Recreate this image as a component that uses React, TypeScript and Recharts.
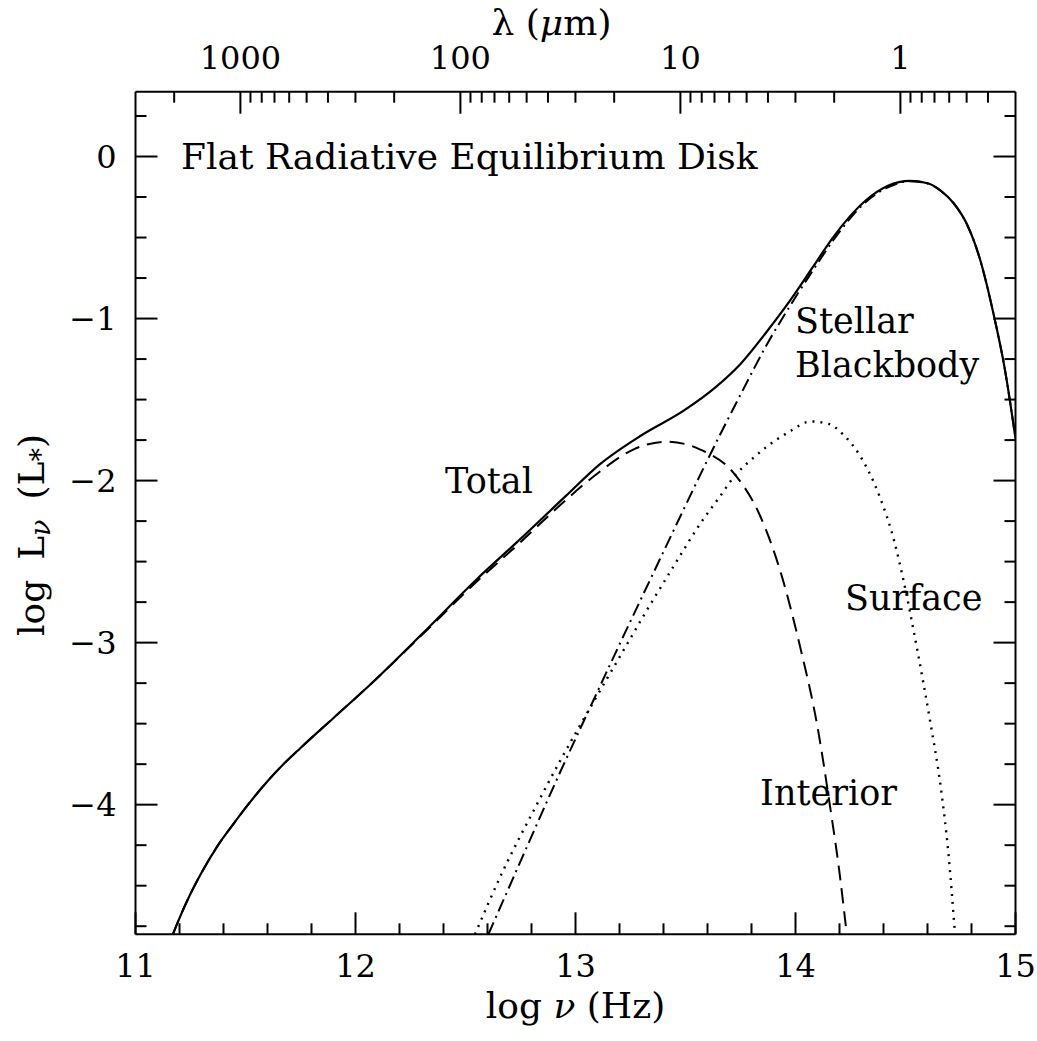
import React from 'react';
import { LineChart, Line, XAxis, YAxis, ReferenceDot } from 'recharts';

const FONT = '"DejaVu Serif", "Liberation Serif", serif';
const FS_TICK = 32;
const FS_TEXT = 35;
const FS_TITLE = 36;

// ---- data (log nu [Hz], log L_nu [L*]) ----
const totalLogNu = [11.17, 11.2, 11.25, 11.3, 11.38, 11.45, 11.5, 11.6, 11.68, 11.75, 11.9, 12.07, 12.3, 12.55, 12.75, 12.96, 13.11, 13.3, 13.49, 13.64, 13.75, 13.87, 13.975, 14.08, 14.17, 14.32, 14.42, 14.52, 14.6, 14.66, 14.72, 14.78, 14.84, 14.9, 14.95, 15.0];
const totalLogL = [-4.8, -4.7, -4.55, -4.42, -4.24, -4.11, -4.02, -3.855, -3.74, -3.65, -3.465, -3.255, -2.95, -2.61, -2.36, -2.09, -1.9, -1.72, -1.57, -1.42, -1.28, -1.08, -0.89, -0.68, -0.5, -0.27, -0.18, -0.15, -0.165, -0.21, -0.29, -0.42, -0.64, -0.97, -1.3, -1.74];

const interiorLogNu = [11.17, 11.2, 11.25, 11.3, 11.38, 11.45, 11.5, 11.6, 11.68, 11.75, 11.9, 12.07, 12.3, 12.55, 12.75, 12.96, 13.11, 13.26, 13.415, 13.57, 13.72, 13.84, 13.94, 14.02, 14.1, 14.157, 14.2, 14.233];
const interiorLogL = [-4.8, -4.7, -4.55, -4.42, -4.24, -4.11, -4.02, -3.855, -3.74, -3.65, -3.465, -3.255, -2.955, -2.625, -2.38, -2.115, -1.945, -1.81, -1.76, -1.81, -1.955, -2.22, -2.6, -3.02, -3.52, -4.01, -4.42, -4.8];

const surfaceLogNu = [12.543, 12.67, 12.82, 12.93, 13.08, 13.2, 13.32, 13.45, 13.57, 13.65, 13.73, 13.8, 13.87, 13.97, 14.07, 14.15, 14.22, 14.29, 14.38, 14.45, 14.49, 14.55, 14.61, 14.66, 14.695, 14.725];
const surfaceLogL = [-4.8, -4.41, -4.01, -3.73, -3.37, -3.09, -2.81, -2.52, -2.26, -2.11, -1.96, -1.87, -1.79, -1.7, -1.635, -1.65, -1.72, -1.84, -2.09, -2.38, -2.61, -3.02, -3.47, -3.89, -4.3, -4.8];

const stellarLogNu = [12.604, 12.75, 12.93, 13.08, 13.19, 13.34, 13.475, 13.61, 13.75, 13.87, 13.99, 14.1, 14.17, 14.32, 14.42, 14.52, 14.6, 14.66, 14.72, 14.78, 14.84, 14.9, 14.95, 15.0];
const stellarLogL = [-4.8, -4.35, -3.8, -3.36, -3.04, -2.61, -2.225, -1.845, -1.47, -1.16, -0.89, -0.66, -0.52, -0.28, -0.19, -0.152, -0.166, -0.211, -0.291, -0.421, -0.641, -0.971, -1.301, -1.741];

// ---- axes ----
const nuTicks = [11, 11.2, 11.4, 11.6, 11.8, 12, 12.2, 12.4, 12.6, 12.8, 13, 13.2, 13.4, 13.6, 13.8, 14, 14.2, 14.4, 14.6, 14.8, 15];
const logLTicks = [0.25, 0, -0.25, -0.5, -0.75, -1, -1.25, -1.5, -1.75, -2, -2.25, -2.5, -2.75, -3, -3.25, -3.5, -3.75, -4, -4.25, -4.5, -4.75];
const lambdaTicks = [2000, 1000, 900, 800, 700, 600, 500, 400, 300, 200, 100, 90, 80, 70, 60, 50, 40, 30, 20, 10, 9, 8, 7, 6, 5, 4, 3, 2, 1, 0.9, 0.8, 0.7, 0.6, 0.5, 0.4];
const LOG_C_UM = Math.log10(2.998e14); // c in micron/s
const lambdaTickNu = lambdaTicks.map((l) => LOG_C_UM - Math.log10(l));

const xDomain = [11, 15];
const yDomain = [-4.8, 0.4];

const toPoints = (xs: number[], ys: number[]) => xs.map((x, i) => ({ x, y: ys[i] }));
const totalData = toPoints(totalLogNu, totalLogL);
const interiorData = toPoints(interiorLogNu, interiorLogL);
const surfaceData = toPoints(surfaceLogNu, surfaceLogL);
const stellarData = toPoints(stellarLogNu, stellarLogL);

const MAJOR = 22;
const MINOR = 11;
const isInt = (v: number) => Math.abs(v - Math.round(v)) < 1e-6;
const fmtY = (v: number) => (v === 0 ? '0' : (v < 0 ? '\u2212' : '') + Math.abs(v));

const BottomTick = (p: any) => {
  const { x, y, payload } = p;
  const v = payload.value;
  const major = isInt(v);
  return (
    <g>
      <line x1={x} x2={x} y1={y} y2={y - (major ? MAJOR : MINOR)} stroke="#000" strokeWidth={2} />
      {major && (
        <text x={x} y={y + 32} textAnchor="middle" dominantBaseline="central" fontFamily={FONT} fontSize={FS_TICK} fill="#000">
          {String(Math.round(v))}
        </text>
      )}
    </g>
  );
};

const TopTick = (p: any) => {
  const { x, y, payload } = p;
  const v = payload.value;
  const logLam = LOG_C_UM - v;
  const major = isInt(logLam);
  return (
    <g>
      <line x1={x} x2={x} y1={y} y2={y + (major ? MAJOR : MINOR)} stroke="#000" strokeWidth={2} />
      {major && (
        <text x={x} y={y - 34} textAnchor="middle" dominantBaseline="central" fontFamily={FONT} fontSize={FS_TICK} fill="#000">
          {String(Math.round(Math.pow(10, logLam)))}
        </text>
      )}
    </g>
  );
};

const LeftTick = (p: any) => {
  const { x, y, payload } = p;
  const v = payload.value;
  const major = isInt(v);
  return (
    <g>
      <line x1={x} x2={x + (major ? MAJOR : MINOR)} y1={y} y2={y} stroke="#000" strokeWidth={2} />
      {major && (
        <text x={x - 19} y={y} textAnchor="end" dominantBaseline="central" fontFamily={FONT} fontSize={FS_TICK} fill="#000">
          {fmtY(v)}
        </text>
      )}
    </g>
  );
};

const RightTick = (p: any) => {
  const { x, y, payload } = p;
  const v = payload.value;
  const major = isInt(v);
  return <line x1={x} x2={x - (major ? MAJOR : MINOR)} y1={y} y2={y} stroke="#000" strokeWidth={2} />;
};

const BottomTitle = (p: any) => {
  const vb = p.viewBox;
  const cx = vb.x + vb.width / 2;
  const cy = vb.y + 71;
  return (
    <text x={cx} y={cy} textAnchor="middle" dominantBaseline="central" fontFamily={FONT} fontSize={FS_TITLE} fill="#000">
      log <tspan fontStyle="italic">{'\u03BD'}</tspan> (Hz)
    </text>
  );
};

const TopTitle = (p: any) => {
  const vb = p.viewBox;
  const cx = vb.x + vb.width / 2 - 24;
  const cy = vb.y + 22;
  return (
    <text x={cx} y={cy} textAnchor="middle" dominantBaseline="central" fontFamily={FONT} fontSize={FS_TITLE} fill="#000">
      {'\u03BB ('}<tspan fontStyle="italic">{'\u03BC'}</tspan>m)
    </text>
  );
};

const LeftTitle = (p: any) => {
  const vb = p.viewBox;
  const cx = vb.x + 31;
  const cy = vb.y + vb.height / 2 + 22;
  return (
    <text x={cx} y={cy} transform={`rotate(-90, ${cx}, ${cy})`} textAnchor="middle" dominantBaseline="central" fontFamily={FONT} fontSize={FS_TITLE} fill="#000">
      log<tspan dx={20}>L</tspan>
      <tspan dy={9} fontSize={27} fontStyle="italic">{'\u03BD'}</tspan>
      <tspan dx={20} dy={-9}>(L</tspan>
      <tspan dy={9} fontSize={27}>*</tspan>
      <tspan dy={-9}>)</tspan>
    </text>
  );
};

const annot = (lines: string[], fs: number) => (p: any) => {
  const vb = p.viewBox;
  return (
    <text x={vb.x} y={vb.y} fontFamily={FONT} fontSize={fs} fill="#000">
      {lines.map((s, i) => (
        <tspan key={i} x={vb.x} dy={i === 0 ? 0 : 44}>{s}</tspan>
      ))}
    </text>
  );
};

const annotations = [
  { x: 11.207, y: -0.075, lines: ['Flat Radiative Equilibrium Disk'], fs: 36 },
  { x: 12.407, y: -2.076, lines: ['Total'], fs: FS_TEXT },
  { x: 13.998, y: -1.09, lines: ['Stellar', 'Blackbody'], fs: FS_TEXT },
  { x: 14.225, y: -2.797, lines: ['Surface'], fs: FS_TEXT },
  { x: 13.839, y: -3.999, lines: ['Interior'], fs: FS_TEXT },
];

export default function App() {
  return (
    <div style={{ position: 'absolute', left: 0, top: 0, width: 1037, height: 1041, background: '#fff' }}>
      <LineChart width={1037} height={1041} margin={{ top: 0, right: 0, bottom: 0, left: 0 }}>
        <XAxis
          xAxisId="bottom"
          dataKey="x"
          type="number"
          domain={xDomain}
          allowDataOverflow
          ticks={nuTicks}
          interval={0}
          tickSize={0}
          tickMargin={0}
          tickLine={false}
          tick={<BottomTick />}
          height={106.7}
          axisLine={{ stroke: '#000', strokeWidth: 2 }}
          label={BottomTitle}
        />
        <XAxis
          xAxisId="top"
          orientation="top"
          dataKey="x"
          type="number"
          domain={xDomain}
          allowDataOverflow
          ticks={lambdaTickNu}
          interval={0}
          tickSize={0}
          tickMargin={0}
          tickLine={false}
          tick={<TopTick />}
          height={91.7}
          axisLine={{ stroke: '#000', strokeWidth: 2 }}
          label={TopTitle}
        />
        <YAxis
          yAxisId="left"
          type="number"
          domain={yDomain}
          allowDataOverflow
          ticks={logLTicks}
          interval={0}
          tickSize={0}
          tickMargin={0}
          tickLine={false}
          tick={<LeftTick />}
          width={135.5}
          axisLine={{ stroke: '#000', strokeWidth: 2 }}
          label={LeftTitle}
        />
        <YAxis
          yAxisId="right"
          orientation="right"
          type="number"
          domain={yDomain}
          allowDataOverflow
          ticks={logLTicks}
          interval={0}
          tickSize={0}
          tickMargin={0}
          tickLine={false}
          tick={<RightTick />}
          width={21.5}
          axisLine={{ stroke: '#000', strokeWidth: 2 }}
        />
        <Line xAxisId="bottom" yAxisId="left" data={interiorData} dataKey="y" type="monotone" stroke="#000" strokeWidth={2} strokeDasharray="15 8" dot={false} isAnimationActive={false} />
        <Line xAxisId="bottom" yAxisId="left" data={surfaceData} dataKey="y" type="monotone" stroke="#000" strokeWidth={2.4} strokeDasharray="2 6" dot={false} isAnimationActive={false} />
        <Line xAxisId="bottom" yAxisId="left" data={stellarData} dataKey="y" type="monotone" stroke="#000" strokeWidth={2} strokeDasharray="13 5 2 5" dot={false} isAnimationActive={false} />
        <Line xAxisId="bottom" yAxisId="left" data={totalData} dataKey="y" type="monotone" stroke="#000" strokeWidth={2.2} dot={false} isAnimationActive={false} />
        {annotations.map((a, i) => (
          <ReferenceDot key={i} xAxisId="bottom" yAxisId="left" x={a.x} y={a.y} r={0} fill="none" stroke="none" label={annot(a.lines, a.fs)} />
        ))}
      </LineChart>
    </div>
  );
}
